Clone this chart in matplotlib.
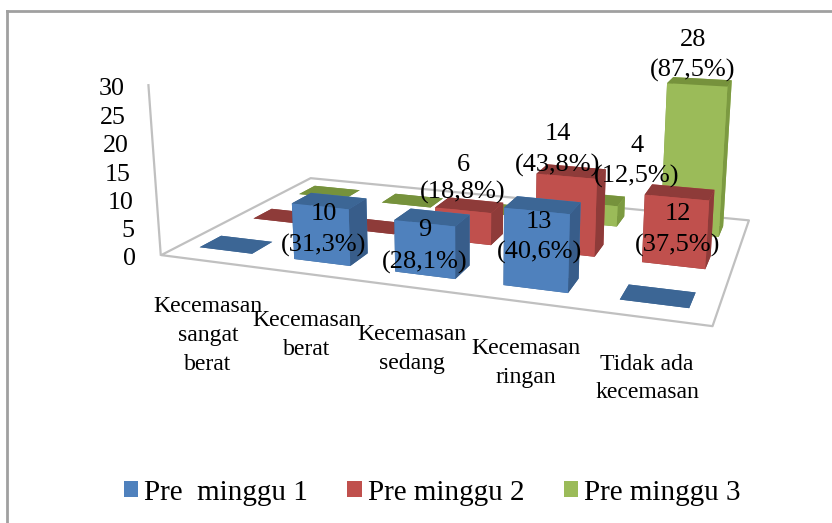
import numpy as np
import matplotlib
matplotlib.use('Agg')
import matplotlib.pyplot as plt
from matplotlib.lines import Line2D
from matplotlib.patches import Patch
from mpl_toolkits.mplot3d.art3d import Poly3DCollection

plt.rcParams['font.family'] = ['Liberation Serif', 'DejaVu Serif']

categories = [['Kecemasan', 'sangat', 'berat'], ['Kecemasan', 'berat'], ['Kecemasan', 'sedang'],
              ['Kecemasan', 'ringan'], ['Tidak ada', 'kecemasan']]
series_names = ['Pre  minggu 1', 'Pre minggu 2', 'Pre minggu 3']
minggu1 = [0, 10, 9, 13, 0]
minggu2 = [0, 0, 6, 14, 12]
minggu3 = [0, 0, 0, 4, 28]
persen1 = ['', '31,3%', '28,1%', '40,6%', '']
persen2 = ['', '', '18,8%', '43,8%', '37,5%']
persen3 = ['', '', '', '12,5%', '87,5%']
yticks = [0, 5, 10, 15, 20, 25, 30]

# hand placed label spots, in pixels from the top left corner
ytick_pos = [(130, 257), (128, 229), (121, 201), (118, 173), (116, 144), (113, 116), (112, 87)]
cat_x = [208, 307, 412, 526, 647]
cat_y = [305, 319, 333, 347, 362]
cat_step = 28.5
label_pos1 = [None, (324, 212, 243), (425, 228, 260), (539, 220, 250), None]
label_pos2 = [None, None, (463, 163, 190), (558, 132, 163), (678, 212, 243)]
label_pos3 = [None, None, None, (637, 144, 174), (693, 38, 68)]

W, H = 832, 523
fig = plt.figure(figsize=(W/100, H/100), dpi=100)
ax = fig.add_axes([155.394/W, 51.689/H, 611.622/W, 611.622/H], projection='3d')
ax.set_xlim(0, 5, view_margin=0)
ax.set_ylim(0, 3, view_margin=0)
ax.set_zlim(0, 30, view_margin=0)
ax.view_init(13.8078, -70.4605, 0)
ax.set_proj_type('persp', focal_length=0.3236)
ax.set_box_aspect((1, 0.5849, 0.3163))
ax.set_axis_off()
ax.computed_zorder = False

grid_color = '#c0c0c0'
floor = Poly3DCollection([[(0, 0, 0), (5, 0, 0), (5, 3, 0), (0, 3, 0)]],
                         facecolor='white', edgecolor=grid_color, linewidth=1.6, zorder=1)
ax.add_collection3d(floor)
ax.plot([0, 0], [0, 0], [0, 30], color=grid_color, lw=1.6, zorder=1, clip_on=False)

# face order for bar3d: bottom, top, front, back, left, right
face_colors = [
    ['#3c6695', '#3c6695', '#4f81bd', '#4f81bd', '#385d8a', '#385d8a'],
    ['#8e3b39', '#8e3b39', '#c0504d', '#c0504d', '#8e3b39', '#8e3b39'],
    ['#76923c', '#76923c', '#9bbb59', '#9bbb59', '#7c9a41', '#7c9a41'],
]
half_w, half_d = 0.2818, 0.1897
series = [minggu1, minggu2, minggu3]
order = 2
# back row first, left to right, so nearer bars cover the farther ones
for k in (2, 1, 0):
    for i, v in enumerate(series[k]):
        ax.bar3d(i + .5 - half_w, k + .5 - half_d, 0, 2*half_w, 2*half_d, v,
                 color=face_colors[k], shade=False, zorder=order)
        order += 1


def put(x, y, s, size):
    fig.text(x/W, 1 - (y + 2)/H, s, fontsize=size, ha='center', va='center', color='black', zorder=50)


for tick, (x, y) in zip(yticks, ytick_pos):
    put(x, y, str(tick), 18.7)

for lines, x, y in zip(categories, cat_x, cat_y):
    for n, line in enumerate(lines):
        put(x, y + n*cat_step, line, 17.1)

for vals, persen, spots in zip(series, [persen1, persen2, persen3], [label_pos1, label_pos2, label_pos3]):
    for v, txt, spot in zip(vals, persen, spots):
        if spot is None:
            continue
        put(spot[0], spot[1], str(v), 19)
        put(spot[0], spot[2], '(' + txt + ')', 19)

handles = [Patch(facecolor=c[2], edgecolor='none', label=n) for c, n in zip(face_colors, series_names)]
fig.legend(handles=handles, ncol=3, loc='center', bbox_to_anchor=(432/W, 1 - 492.5/H), frameon=False,
           fontsize=21, handlelength=0.5, handleheight=0.5, handletextpad=0.2, columnspacing=1.35,
           borderpad=0, borderaxespad=0)

# outer chart frame, open on the right and bottom edges
frame = '#a0a0a0'
fig.add_artist(Line2D([7/W, 1], [1 - 11/H, 1 - 11/H], color=frame, lw=2.0))
fig.add_artist(Line2D([7/W, 7/W], [0, 1 - 11/H], color=frame, lw=2.0))

fig.savefig('out.png', dpi=100)
